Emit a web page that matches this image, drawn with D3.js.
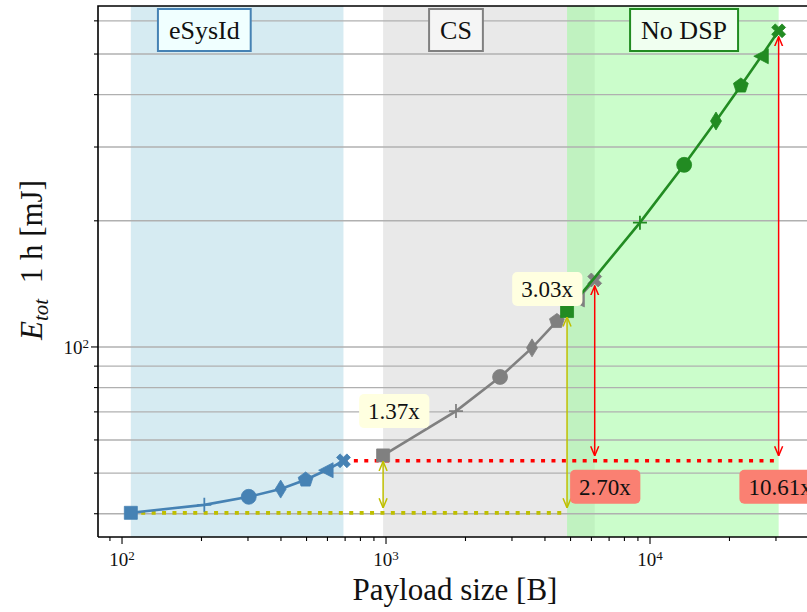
<!DOCTYPE html>
<html>
<head>
    <meta charset="UTF-8">
    <title></title>
    <script src="https://cdn.jsdelivr.net/npm/d3@7"></script>
    <style>
        body{margin:0;background:#fff;}
        text{font-family:"Liberation Serif","Times New Roman",serif;fill:#111;}
    </style>
</head>
<body>
<div id="tu"></div>
<script>
    // payload size [B] / energy [mJ] per configuration
    var esysX=[108,205,302,399,496,593,690];
    var esysY=[40.2,42.0,43.9,45.8,48.2,50.8,53.5];
    var csX=[975,1841,2704,3573,4440,5307,6174];
    var csY=[55.1,70.3,84.8,99.5,115.2,129.8,144.5];
    var ndX=[4850,9160,13470,17780,22090,26400,30710];
    var ndY=[121.8,198,272,346,420,494,568];
    var markers=['s','+','o','d','p','<','X'];
    var regionNames=['eSysId','CS','No DSP'];
    var regionLabelX=[205,1841,13460];
    var ratioLabels=['1.37x','3.03x','2.70x','10.61x'];
    var ratioLabelX=[1072,4074,6752,31080];
    var ratioLabelY=[70.3,137.5,46.4,46.4];

    var W=807,H=612;
    var L=98,R=812,T=6,B=537;
    var svg=d3.select('#tu').append('svg').attr('width',W).attr('height',H);
    var x=d3.scaleLog().domain([81.1,41080]).range([L,R]);
    var y=d3.scaleLog().domain([35.2,651]).range([B,T]);

    svg.append('defs').append('clipPath').attr('id','clip')
        .append('rect').attr('x',L).attr('y',T).attr('width',R-L).attr('height',B-T);
    var defs=svg.select('defs');
    function arrowHead(id,col){
        defs.append('marker').attr('id',id)
            .attr('viewBox','0 0 10 10').attr('refX',9.5).attr('refY',5)
            .attr('markerUnits','userSpaceOnUse')
            .attr('markerWidth',10).attr('markerHeight',10)
            .attr('orient','auto-start-reverse')
            .append('path').attr('d','M0,1 L9.5,5 L0,9')
            .attr('fill','none').attr('stroke',col).attr('stroke-width',1.5);
    }
    arrowHead('ahY','#bfbf00');
    arrowHead('ahR','#ff0000');

    var g=svg.append('g').attr('clip-path','url(#clip)');

    // shaded spans
    var spans=[
        {x0:d3.min(esysX),x1:d3.max(esysX),c:'#add8e6'},
        {x0:d3.min(csX),x1:d3.max(csX),c:'#d3d3d3'},
        {x0:d3.min(ndX),x1:d3.max(ndX),c:'#98fb98'}
    ];
    g.selectAll('.span').data(spans).enter().append('rect')
        .attr('x',function(d){return x(d.x0)})
        .attr('width',function(d){return x(d.x1)-x(d.x0)})
        .attr('y',T).attr('height',B-T)
        .attr('fill',function(d){return d.c})
        .attr('fill-opacity',0.5);

    // horizontal grid
    var yt=y.ticks();
    g.selectAll('.grid').data(yt).enter().append('line')
        .attr('x1',L).attr('x2',R)
        .attr('y1',function(d){return y(d)}).attr('y2',function(d){return y(d)})
        .attr('stroke','#b0b0b0').attr('stroke-width',1.4);

    // dotted reference lines
    var refs=[
        {x0:esysX[0],x1:ndX[0],v:esysY[0],c:'#bfbf00'},
        {x0:esysX[esysX.length-1],x1:ndX[ndX.length-1],v:esysY[esysY.length-1],c:'#ff0000'}
    ];
    g.selectAll('.ref').data(refs).enter().append('line')
        .attr('x1',function(d){return x(d.x0)}).attr('x2',function(d){return x(d.x1)})
        .attr('y1',function(d){return y(d.v)}).attr('y2',function(d){return y(d.v)})
        .attr('stroke',function(d){return d.c})
        .attr('stroke-width',3.6).attr('stroke-dasharray','4,6.4');

    function markerPath(m){
        if(m=='s') return 'M-6.5,-6.5H6.5V6.5H-6.5Z';
        if(m=='+') return 'M-7,0H7M0,-7V7';
        if(m=='o') return d3.symbol(d3.symbolCircle,Math.PI*56)();
        if(m=='d') return 'M0,-9L5.5,0L0,9L-5.5,0Z';
        if(m=='p'){
            var p=[];
            for(var k=0;k<5;k++){
                var a=-Math.PI/2+k*2*Math.PI/5;
                p.push([7.8*Math.cos(a),7.8*Math.sin(a)]);
            }
            return 'M'+p.join('L')+'Z';
        }
        if(m=='<') return 'M-7.5,0L7,-7.5L7,7.5Z';
        if(m=='X'){
            var a2=7.3,t=2.5;
            var pts=[[-t,-a2],[t,-a2],[t,-t],[a2,-t],[a2,t],[t,t],[t,a2],[-t,a2],[-t,t],[-a2,t],[-a2,-t],[-t,-t]];
            return 'M'+pts.join('L')+'Z';
        }
    }

    function drawSeries(xs,ys,col){
        var pts=xs.map(function(d,i){return {x:d,y:ys[i],m:markers[i]}});
        var line=d3.line().x(function(d){return x(d.x)}).y(function(d){return y(d.y)});
        g.append('path').datum(pts).attr('d',line)
            .attr('fill','none').attr('stroke',col).attr('stroke-width',2.6);
        g.selectAll(null).data(pts).enter().append('path')
            .attr('transform',function(d){
                return 'translate('+x(d.x)+','+y(d.y)+')'+(d.m=='X'?' rotate(45)':'');
            })
            .attr('d',function(d){return markerPath(d.m)})
            .attr('fill',function(d){return d.m=='+'?'none':col})
            .attr('stroke',col)
            .attr('stroke-width',function(d){return d.m=='+'?1.8:0.8});
    }
    drawSeries(esysX,esysY,'#4682b4');
    drawSeries(csX,csY,'#808080');
    drawSeries(ndX,ndY,'#228b22');

    // ratio arrows
    var arrows=[
        {at:csX[0],v0:esysY[0],v1:csY[0],id:'ahY',c:'#bfbf00'},
        {at:ndX[0],v0:esysY[0],v1:ndY[0],id:'ahY',c:'#bfbf00'},
        {at:csX[csX.length-1],v0:esysY[esysY.length-1],v1:csY[csY.length-1],id:'ahR',c:'#ff0000'},
        {at:ndX[ndX.length-1],v0:esysY[esysY.length-1],v1:ndY[ndY.length-1],id:'ahR',c:'#ff0000'}
    ];
    g.selectAll('.arr').data(arrows).enter().append('line')
        .attr('x1',function(d){return x(d.at)}).attr('x2',function(d){return x(d.at)})
        .attr('y1',function(d){return y(d.v0)-5}).attr('y2',function(d){return y(d.v1)+6})
        .attr('stroke',function(d){return d.c}).attr('stroke-width',1.5)
        .attr('marker-start',function(d){return 'url(#'+d.id+')'})
        .attr('marker-end',function(d){return 'url(#'+d.id+')'});

    // ratio labels
    var boxCol=['#ffffe0','#ffffe0','#fa8072','#fa8072'];
    ratioLabels.forEach(function(s,i){
        var lg=g.append('g').attr('transform','translate('+x(ratioLabelX[i])+','+y(ratioLabelY[i])+')');
        var rect=lg.append('rect');
        var t=lg.append('text').attr('text-anchor','middle').attr('dy','0.34em')
            .style('font-size','23px').text(s);
        var bb=t.node().getBBox();
        rect.attr('x',bb.x-9).attr('y',-17).attr('width',bb.width+18).attr('height',34)
            .attr('rx',5).attr('fill',boxCol[i]);
    });

    // region labels
    var regStroke=['#4682b4','#808080','#228b22'];
    var regFill=['#f0ffff','#f5f5f5','#f0fff0'];
    regionNames.forEach(function(s,i){
        var lg=svg.append('g').attr('transform','translate('+x(regionLabelX[i])+',30)');
        var rect=lg.append('rect');
        var t=lg.append('text').attr('text-anchor','middle').attr('dy','0.34em')
            .style('font-size','26px').text(s);
        var bb=t.node().getBBox();
        rect.attr('x',bb.x-11).attr('y',-21).attr('width',bb.width+22).attr('height',42)
            .attr('fill',regFill[i]).attr('stroke',regStroke[i]).attr('stroke-width',2);
    });

    // axes
    var isMajor=function(d){return Math.abs(Math.log10(d)-Math.round(Math.log10(d)))<1e-6};
    var xt=x.ticks().filter(function(d){return x(d)>=L&&x(d)<=W});
    svg.selectAll('.xt').data(xt).enter().append('line')
        .attr('x1',function(d){return x(d)}).attr('x2',function(d){return x(d)})
        .attr('y1',B).attr('y2',function(d){return B+(isMajor(d)?7:4)})
        .attr('stroke','#000').attr('stroke-width',1.1);
    svg.selectAll('.yt').data(yt).enter().append('line')
        .attr('y1',function(d){return y(d)}).attr('y2',function(d){return y(d)})
        .attr('x1',L).attr('x2',function(d){return L-(isMajor(d)?7:4)})
        .attr('stroke','#000').attr('stroke-width',1.1);
    function powLabel(sel,d){
        sel.append('tspan').text('10');
        sel.append('tspan').attr('dy','-0.45em').style('font-size','13px').text(Math.round(Math.log10(d)));
    }
    xt.filter(isMajor).forEach(function(d){
        var t=svg.append('text').attr('x',x(d)).attr('y',566).attr('text-anchor','middle')
            .style('font-size','19px');
        powLabel(t,d);
    });
    yt.filter(isMajor).forEach(function(d){
        var t=svg.append('text').attr('x',L-9).attr('y',y(d)+7).attr('text-anchor','end')
            .style('font-size','19px');
        powLabel(t,d);
    });
    svg.append('path').attr('d','M'+L+','+B+'V'+T+'H'+W)
        .attr('fill','none').attr('stroke','#000').attr('stroke-width',1.6);
    svg.append('line').attr('x1',L).attr('x2',W).attr('y1',B).attr('y2',B)
        .attr('stroke','#000').attr('stroke-width',1.6);

    svg.append('text').attr('x',455).attr('y',600).attr('text-anchor','middle')
        .style('font-size','31px').text('Payload size [B]');
    var yl=svg.append('text').attr('transform','translate(42,260) rotate(-90)')
        .attr('text-anchor','middle').style('font-size','31px');
    yl.append('tspan').style('font-style','italic').text('E');
    yl.append('tspan').style('font-style','italic').style('font-size','21px').attr('dy','0.3em').text('tot');
    yl.append('tspan').attr('dy','-0.2em').text('\u00a0\u00a01 h [mJ]');
</script>
</body>
</html>
